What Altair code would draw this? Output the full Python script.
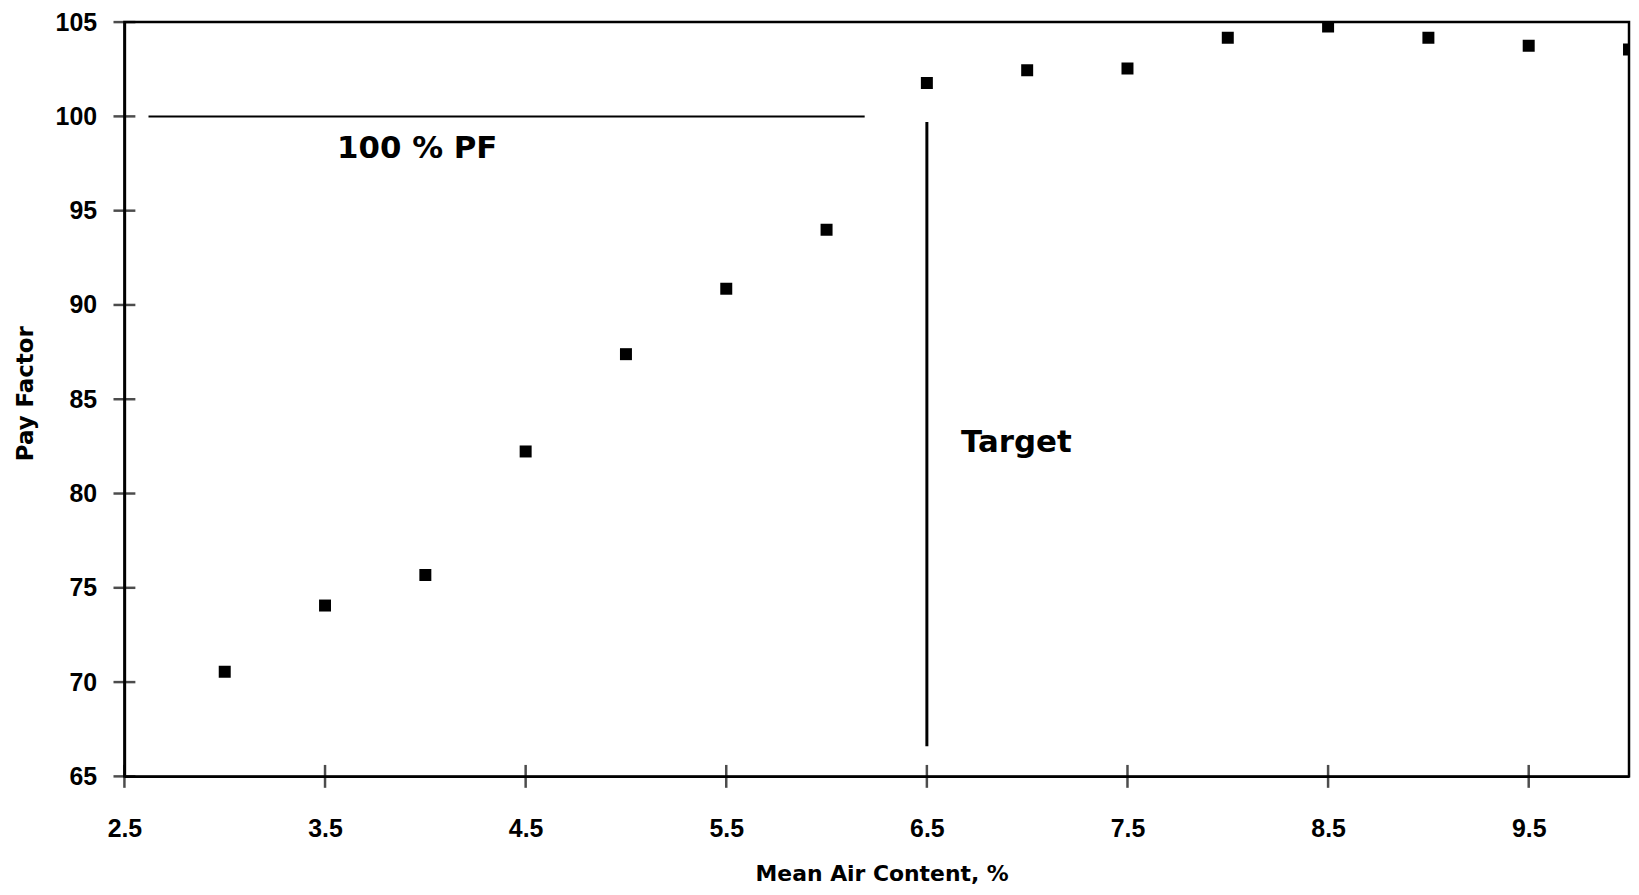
import altair as alt
import pandas as pd

# Data
air = [3.0, 3.5, 4.0, 4.5, 5.0, 5.5, 6.0, 6.5, 7.0, 7.5, 8.0, 8.5, 9.0, 9.5, 10.0]
pay_factor = [70.55, 74.06, 75.68, 82.23, 87.39, 90.86, 93.99, 101.77,
              102.45, 102.54, 104.17, 104.77, 104.17, 103.75, 103.55]
x_ticks = [2.5, 3.5, 4.5, 5.5, 6.5, 7.5, 8.5, 9.5]
y_ticks = [65, 70, 75, 80, 85, 90, 95, 100, 105]

pf_line_x = [2.62, 6.19]
pf_line_y = [100.0]
target_x = [6.5]
target_y = [66.6, 99.7]

ann_text = ["100 % PF", "Target"]
ann_x = [3.56, 6.67]
ann_y = [97.8, 82.2]

pts = pd.DataFrame({"air": air, "pf": pay_factor})
xt = pd.DataFrame({"air": x_ticks, "pf": [65] * len(x_ticks)})
yt = pd.DataFrame({"pf": y_ticks, "air": [2.5] * len(y_ticks)})
pf_df = pd.DataFrame({"air": [pf_line_x[0]], "x2": [pf_line_x[1]], "pf": pf_line_y})
tg_df = pd.DataFrame({"air": target_x, "pf": [target_y[0]], "y2": [target_y[1]]})
ann_df = pd.DataFrame({"t": ann_text, "air": ann_x, "pf": ann_y})

xs = alt.Scale(domain=[2.5, 10], nice=False, zero=False)
ys = alt.Scale(domain=[65, 105], nice=False, zero=False)

x_axis = alt.Axis(
    values=x_ticks, format=".1f", ticks=False, tickSize=0, labelPadding=40,
    labelFont="Liberation Sans", labelFontWeight="bold", labelFontSize=25,
    labelColor="black", labelFlush=False, labelOverlap=False,
    domainColor="black", domainWidth=2.5, grid=False,
    title="Mean Air Content, %", titleFont="DejaVu Sans", titleFontSize=22,
    titleFontWeight="bold", titleColor="black",
    titleX=761, titleY=105, titleAlign="center", titleBaseline="alphabetic",
)
y_axis = alt.Axis(
    values=y_ticks, format="d", ticks=False, tickSize=0, labelPadding=28,
    labelFont="Liberation Sans", labelFontWeight="bold", labelFontSize=25,
    labelColor="black", labelFlush=False, labelOverlap=False,
    domainColor="black", domainWidth=2.5, grid=False,
    title="Pay Factor", titleFont="DejaVu Sans", titleFontSize=23,
    titleFontWeight="bold", titleColor="black", titleAngle=270,
    titleX=-92, titleY=373, titleAlign="center", titleBaseline="alphabetic",
)

X = alt.X("air:Q", scale=xs, axis=x_axis, title="Mean Air Content, %")
Y = alt.Y("pf:Q", scale=ys, axis=y_axis, title="Pay Factor")

points = alt.Chart(pts).mark_point(
    shape="square", filled=True, size=145, color="black", opacity=1, clip=True
).encode(x=X, y=Y)

xticks = alt.Chart(xt).mark_tick(
    orient="vertical", size=23, thickness=2.5, color="black"
).encode(x=X, y=Y)

yticks = alt.Chart(yt).mark_tick(
    orient="horizontal", size=22, thickness=2.5, color="black"
).encode(x=X, y=Y)

pf_rule = alt.Chart(pf_df).mark_rule(color="black", strokeWidth=2).encode(
    x=X, x2="x2:Q", y=Y,
)

tg_rule = alt.Chart(tg_df).mark_rule(color="black", strokeWidth=3).encode(
    x=X, y=Y, y2="y2:Q",
)

ann = alt.Chart(ann_df).mark_text(
    font="DejaVu Sans", fontWeight="bold", fontSize=31, color="black",
    align="left", baseline="alphabetic"
).encode(x=X, y=Y, text="t:N")

chart = alt.layer(points, xticks, yticks, pf_rule, tg_rule, ann).properties(
    width=1512, height=758,
    autosize=alt.AutoSizeParams(type="none"),
    padding={"left": 117, "top": 12, "right": 2, "bottom": 109},
    background="white",
).configure_view(stroke="black", strokeWidth=2.5)

chart.save("out.html", embed_options={"renderer": "svg", "actions": False})
